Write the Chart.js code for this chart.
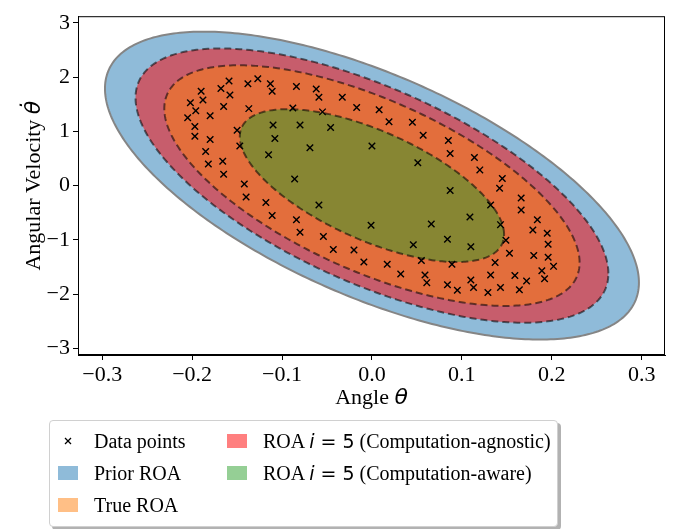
<!DOCTYPE html>
<html>
<head>
<meta charset="utf-8">
<script src="https://cdn.jsdelivr.net/npm/chart.js@4.4.1/dist/chart.umd.min.js"></script>
<style>
  body { margin: 0; background: #fff; }
  #wrap { position: relative; width: 677px; height: 529px; }
  #legend {
    position: absolute; left: 49px; top: 420px; width: 507px; height: 105px;
    border: 1px solid #d0d0d0; border-radius: 4px; background: #fff;
    box-shadow: 3px 3px 0 rgba(0,0,0,0.3);
    font-family: "Liberation Serif", "DejaVu Serif", serif; font-size: 20px; color: #000;
  }
  .item { position: absolute; height: 28px; line-height: 28px; white-space: nowrap; }
  .sw { position: absolute; width: 20px; height: 14px; top: 7px; left: 0; }
  .txt { position: absolute; left: 36px; top: 0; }
  .math { font-family: "DejaVu Sans", sans-serif; font-size: 19px; }
  .math i { font-style: italic; }
</style>
</head>
<body>
<div id="wrap">
  <canvas id="myChart"></canvas>
  <div id="legend"></div>
</div>
<script>
// data points (angle, angular velocity)
var angleValues = [
  -0.159, -0.138, -0.127, -0.113, -0.111, -0.084, -0.190, -0.168, -0.158, -0.188,
  -0.202, -0.165, -0.137, -0.088, -0.196, -0.180, -0.205, -0.110, -0.080, -0.197,
  -0.150, -0.197, -0.180, -0.108, -0.147, -0.115, -0.185, -0.166, -0.182, -0.165,
  -0.086, -0.142, -0.062, -0.059, -0.033, -0.017, 0.008, -0.055, 0.019, 0.045,
  -0.046, 0.057, -0.069, 0.000, 0.051, 0.085, 0.087, 0.114, 0.120, 0.145,
  0.142, 0.087, 0.166, 0.132, 0.166, 0.109, 0.184, 0.066, 0.143, 0.179,
  0.195, 0.084, 0.149, 0.196, 0.110, 0.153, 0.180, 0.196, 0.137, 0.089,
  0.202, 0.189, 0.132, 0.159, 0.192, 0.110, 0.172, 0.084, 0.113, 0.143,
  0.095, 0.164, 0.129, -0.059, -0.001, -0.080, -0.054, 0.046, -0.043, -0.020,
  0.055, -0.009, 0.017, 0.059, 0.032, 0.061, -0.140, -0.118, -0.111, -0.084
];
var velocityValues = [
  1.93, 1.88, 1.97, 1.88, 1.74, 1.83, 1.74, 1.79, 1.67, 1.58,
  1.53, 1.46, 1.42, 1.43, 1.38, 1.29, 1.25, 1.12, 1.12, 1.09,
  1.02, 0.91, 0.85, 0.87, 0.73, 0.57, 0.63, 0.45, 0.40, 0.21,
  0.12, 0.03, 1.78, 1.63, 1.63, 1.44, 1.40, 1.36, 1.18, 1.17,
  1.07, 0.93, 0.70, 0.73, 0.42, 0.83, 0.59, 0.52, 0.29, 0.13,
  -0.05, -0.09, -0.23, -0.36, -0.45, -0.58, -0.63, -0.71, -0.72, -0.82,
  -0.88, -0.99, -1.01, -1.08, -1.13, -1.25, -1.29, -1.32, -1.42, -1.45,
  -1.49, -1.57, -1.65, -1.66, -1.72, -1.74, -1.76, -1.83, -1.88, -1.88,
  -1.93, -1.92, -1.97, -0.36, -0.73, -0.86, -0.94, -1.09, -1.18, -1.19,
  -1.38, -1.41, -1.45, -1.65, -1.63, -1.79, -0.21, -0.31, -0.55, -0.63
];

// regions of attraction, outer to inner: half-width in angle, half-height in velocity, correlation
var roaNames = ['Prior ROA', 'ROA agnostic', 'True ROA', 'ROA aware'];
var roaAngleExtent = [0.297, 0.263, 0.231, 0.147];
var roaVelocityExtent = [2.84, 2.53, 2.22, 1.41];
var roaCorr = [-0.63, -0.64, -0.64, -0.64];

var xTicks = [-0.3, -0.2, -0.1, 0.0, 0.1, 0.2, 0.3];
var yTicks = [-3, -2, -1, 0, 1, 2, 3];

var fillColors = ['rgba(31,119,180,0.5)', 'rgba(255,0,0,0.5)', 'rgba(255,127,14,0.5)', 'rgba(44,160,44,0.5)'];
var edgeColors = ['#858585', 'rgba(0,0,0,0.55)', 'rgba(0,0,0,0.55)', 'rgba(0,0,0,0.55)'];
var edgeDash = [[], [7, 4], [7, 4], [7, 4]];

var points = angleValues.map(function(a, i) { return {x: a, y: velocityValues[i]}; });

var serif = '"Liberation Serif", "DejaVu Serif", serif';

var roaPlugin = {
    id: 'roa',
    beforeDatasetsDraw: function(chart) {
        var ctx = chart.ctx, xs = chart.scales.x, ys = chart.scales.y, area = chart.chartArea;
        ctx.save();
        ctx.beginPath();
        ctx.rect(area.left, area.top, area.right - area.left, area.bottom - area.top);
        ctx.clip();
        for (var k = 0; k < roaNames.length; k++) {
            var phi = Math.acos(roaCorr[k]);
            ctx.beginPath();
            for (var s = 0; s <= 360; s++) {
                var t = s * Math.PI / 180;
                var px = xs.getPixelForValue(roaAngleExtent[k] * Math.cos(t));
                var py = ys.getPixelForValue(roaVelocityExtent[k] * Math.cos(t - phi));
                if (s === 0) ctx.moveTo(px, py); else ctx.lineTo(px, py);
            }
            ctx.closePath();
            ctx.fillStyle = fillColors[k];
            ctx.fill();
            ctx.setLineDash(edgeDash[k]);
            ctx.lineWidth = 2;
            ctx.strokeStyle = edgeColors[k];
            ctx.stroke();
        }
        ctx.restore();
    },
    afterDraw: function(chart) {
        var ctx = chart.ctx, area = chart.chartArea;
        ctx.save();
        ctx.strokeStyle = '#000';
        ctx.lineWidth = 1;
        ctx.strokeRect(area.left + 0.5, area.top + 0.5, area.right - area.left - 1, area.bottom - area.top - 1);

        // axis titles: serif words with an italic theta
        var wordFont = '22px ' + serif;
        var mathFont = 'italic 22px "DejaVu Sans", sans-serif';
        ctx.fillStyle = '#000';
        ctx.textBaseline = 'alphabetic';
        ctx.textAlign = 'left';
        function drawTitle(word, sym, cx, baseline) {
            ctx.font = wordFont;
            var w1 = ctx.measureText(word).width;
            ctx.font = mathFont;
            var w2 = ctx.measureText(sym).width;
            var x0 = cx - (w1 + w2) / 2;
            ctx.font = wordFont;
            ctx.fillText(word, x0, baseline);
            ctx.font = mathFont;
            ctx.fillText(sym, x0 + w1, baseline);
        }
        var midX = (area.left + area.right) / 2;
        drawTitle('Angle ', '\u03b8', midX, 404);
        ctx.translate(40, (area.top + area.bottom) / 2);
        ctx.rotate(-Math.PI / 2);
        drawTitle('Angular Velocity ', '\u03b8\u0307', 0, 0);
        ctx.restore();
    }
};

function fmt(v, d) {
    return v.toFixed(d).replace('-', '\u2212');
}

var ctx = document.getElementById('myChart').getContext('2d');
var myChart = new Chart(ctx, {
    type: 'scatter',
    data: {
        datasets: [{
            label: 'Data points',
            data: points,
            pointStyle: 'crossRot',
            pointRadius: 4.6,
            pointBorderWidth: 1.4,
            borderColor: '#000',
            backgroundColor: '#000'
        }]
    },
    options: {
        responsive: true,
        maintainAspectRatio: false,
        animation: false,
        layout: { padding: { left: 0, right: 12, top: 5, bottom: 114 } },
        plugins: { legend: { display: false }, tooltip: { enabled: false } },
        scales: {
            x: {
                type: 'linear',
                min: -0.327,
                max: 0.326,
                afterBuildTicks: function(scale) { scale.ticks = xTicks.map(function(v) { return {value: v}; }); },
                afterFit: function(scale) { scale.height = 60; },
                ticks: {
                    color: '#000',
                    padding: 2,
                    maxRotation: 0,
                    font: { family: serif, size: 22 },
                    callback: function(v) { return fmt(v, 1); }
                },
                grid: { drawOnChartArea: false, tickLength: 5, tickColor: '#000' },
                border: { color: '#000', width: 1 }
            },
            y: {
                type: 'linear',
                min: -3.125,
                max: 3.125,
                afterBuildTicks: function(scale) { scale.ticks = yTicks.map(function(v) { return {value: v}; }); },
                afterFit: function(scale) { scale.width = 78; },
                ticks: {
                    color: '#000',
                    padding: 3,
                    font: { family: serif, size: 22 },
                    callback: function(v) { return fmt(v, 0); }
                },
                grid: { drawOnChartArea: false, tickLength: 5, tickColor: '#000' },
                border: { color: '#000', width: 1 }
            }
        }
    },
    plugins: [roaPlugin]
});

// legend, laid out in two columns like the original
var legendLabels = ['Data points', 'Prior ROA', 'True ROA', 'ROA agnostic', 'ROA aware'];
var legendSwatches = [null, 'rgba(31,119,180,0.5)', 'rgba(255,127,14,0.5)', 'rgba(255,0,0,0.5)', 'rgba(44,160,44,0.5)'];
var legendHtml = {
    'Data points': 'Data points',
    'Prior ROA': 'Prior ROA',
    'True ROA': 'True ROA',
    'ROA agnostic': 'ROA <span class="math"><i>i</i> = 5</span> (Computation-agnostic)',
    'ROA aware': 'ROA <span class="math"><i>i</i> = 5</span> (Computation-aware)'
};
var leg = document.getElementById('legend');
legendLabels.forEach(function(name, i) {
    var col = i < 3 ? 0 : 1, row = i < 3 ? i : i - 3;
    var div = document.createElement('div');
    div.className = 'item';
    div.style.left = (col === 0 ? 8 : 177) + 'px';
    div.style.top = (6 + row * 32) + 'px';
    var sw;
    if (legendSwatches[i]) {
        sw = '<div class="sw" style="background:' + legendSwatches[i] + '"></div>';
    } else {
        sw = '<svg class="sw" width="20" height="14"><line x1="7" y1="4" x2="13" y2="10" stroke="#000" stroke-width="1.2"/><line x1="13" y1="4" x2="7" y2="10" stroke="#000" stroke-width="1.2"/></svg>';
    }
    div.innerHTML = sw + '<span class="txt">' + legendHtml[name] + '</span>';
    leg.appendChild(div);
});
</script>
</body>
</html>
